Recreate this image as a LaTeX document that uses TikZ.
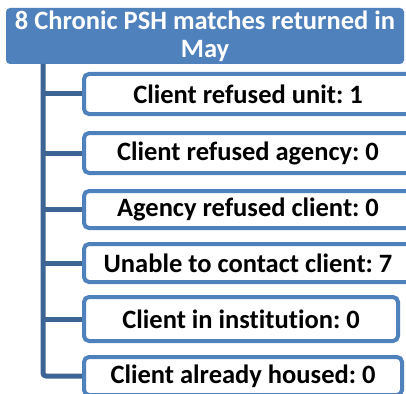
\documentclass[tikz,border=0pt]{standalone}
\usepackage{fontspec}
\setmainfont{Carlito}[Ligatures=NoCommon]
\definecolor{boxblue}{HTML}{4F81BD}
\definecolor{linkblue}{HTML}{3C6494}
\begin{document}
\frenchspacing
\begin{tikzpicture}[x=1pt,y=1pt,
  titlebox/.style={fill=boxblue,draw=none,rounded corners=4pt,text=white,
    font=\fontsize{26.5}{28}\selectfont\bfseries,align=center,inner sep=0pt,
    minimum width=398pt,minimum height=56pt},
  itembox/.style={draw=boxblue,line width=4pt,fill=white,rounded corners=5pt,
    font=\fontsize{26.5}{28}\selectfont\bfseries,inner sep=0pt},
  conn/.style={draw=linkblue,line width=5pt,rounded corners=3pt}]
\useasboundingbox (0,0) rectangle (406,-393);
\node[titlebox] (title) at (205,-36) {8 Chronic PSH matches returned in\\May};
\coordinate (trunk) at (43,-64);
\node[itembox,minimum width=328pt,minimum height=40pt] (b1) at (248,-94) {Client refused unit: 1};
\node[itembox,minimum width=328pt,minimum height=40pt] (b2) at (248,-153) {Client refused agency: 0};
\node[itembox,minimum width=328pt,minimum height=37pt] (b3) at (248,-209.5) {Agency refused client: 0};
\node[itembox,minimum width=328pt,minimum height=38pt] (b4) at (248,-263) {Unable to contact client: 7};
\node[itembox,minimum width=314pt,minimum height=44pt] (b5) at (241,-319) {Client in institution: 0};
\node[itembox,minimum width=318pt,minimum height=38pt] (b6) at (243,-376) {Client already housed: 0};
\draw[conn] (trunk) |- (b6.west);
\foreach \b in {b1,b2,b3,b4,b5}{
  \draw[draw=linkblue,line width=5pt] (trunk |- \b.west) -- (\b.west);
}
\end{tikzpicture}
\end{document}
